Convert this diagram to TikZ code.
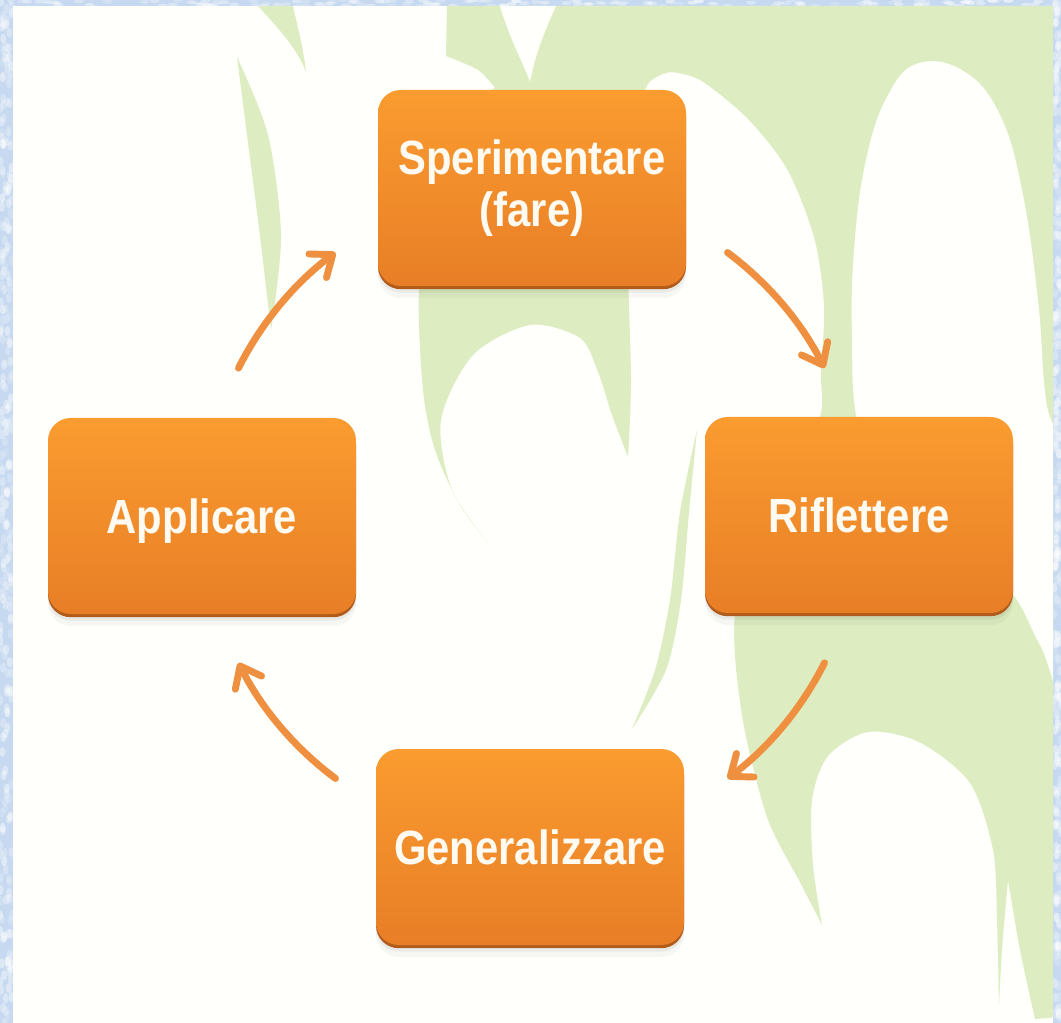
\documentclass[tikz,border=0pt]{standalone}
\usepackage{fontspec}
\newfontfamily\boxfont[FakeStretch=0.87]{Liberation Sans}
\usetikzlibrary{arrows.meta,shadows}
\definecolor{frameblue}{RGB}{198,217,240}
\definecolor{paper}{RGB}{255,255,251}
\definecolor{leaf}{RGB}{221,237,193}
\definecolor{boxtop}{RGB}{250,156,48}
\definecolor{boxbot}{RGB}{232,126,38}
\definecolor{boxedge}{RGB}{178,92,28}
\definecolor{arroworange}{RGB}{239,143,64}
\definecolor{boxtext}{RGB}{255,251,242}
\begin{document}
\begin{tikzpicture}[x=0.75pt,y=-0.75pt,
  procbox/.style={rounded corners=17pt, minimum width=231pt, minimum height=147pt,
    inner sep=0pt, align=center, text=boxtext,
    font=\boxfont\bfseries\fontsize{36}{39}\selectfont,
    top color=boxtop, bottom color=boxbot,
    general shadow={fill=black, opacity=0.035, shadow yshift=-9pt, shadow xshift=0pt},
    general shadow={fill=black, opacity=0.05, shadow yshift=-5pt},
    general shadow={fill=boxedge, shadow yshift=-2.4pt}},
  oneline/.style={text height=26pt, text depth=0pt},
  cycarrow/.style={draw=arroworange, line width=5.2pt, line cap=round,
    -{Straight Barb[length=14pt, width=22pt, round]}}
]
\useasboundingbox (0,0) rectangle (1061,1023);
% textured frame
\fill[frameblue] (0,0) rectangle (1061,1023);
\pgfmathsetseed{11}
\foreach \i in {1,...,260}{
  \pgfmathsetmacro{\yy}{rnd*1023}
  \pgfmathsetmacro{\xx}{rnd*12}
  \pgfmathsetmacro{\op}{0.15+0.3*rnd}
  \fill[white, opacity=\op] (\xx,\yy) ellipse [x radius=3, y radius=5];
  \pgfmathsetmacro{\yy}{rnd*1023}
  \pgfmathsetmacro{\xx}{1054+rnd*7}
  \fill[white, opacity=\op] (\xx,\yy) ellipse [x radius=3, y radius=5];
}
\foreach \i in {1,...,160}{
  \pgfmathsetmacro{\xx}{rnd*1061}
  \pgfmathsetmacro{\yy}{rnd*6}
  \pgfmathsetmacro{\op}{0.15+0.3*rnd}
  \fill[white, opacity=\op] (\xx,\yy) ellipse [x radius=5, y radius=2];
}
\begin{scope}
\clip (13,6) rectangle (1053,1023);
\fill[paper] (13,6) rectangle (1053,1023);
% main green region with white tongues
\fill[leaf] (447,6) -- (1060,6) -- (1060,1017) -- (1035,1019)
  -- plot[smooth] coordinates {(1035,1019) (1020,950) (1008,880)}
  -- plot[smooth] coordinates {(1008,880) (1002,950) (999,1005)}
  -- plot[smooth] coordinates {(999,1005) (997,920) (993,850) (970,783) (919,742) (868,732) (828,756) (812,800) (813,865) (822,925)}
  -- plot[smooth] coordinates {(822,925) (801,884) (767,817) (742,715) (735,613) (765,510) (818,423) (821,372) (824,305) (814,237) (787,169) (747,118) (700,80) (670,72)}
  -- plot[smooth] coordinates {(670,72) (648,84) (634,130) (628,250) (631,380) (628,457)}
  -- plot[smooth] coordinates {(628,457) (612,415) (598,372) (580,338) (530,325) (473,355) (441,420) (452,490) (490,545)}
  -- plot[smooth] coordinates {(490,545) (460,505) (435,450) (423,390) (419,290) (432,190) (470,110) (495,88)}
  -- plot[smooth] coordinates {(495,88) (478,70) (446,56)}
  -- cycle;
% white tongue on the right
\fill[paper] plot[smooth cycle, tension=0.7] coordinates {(919,63) (965,72) (1000,115) (1022,190) (1038,300) (1046,400) (1062,470) (1062,680) (1040,645) (1008,588) (950,540) (880,480) (857,420) (852,340) (854,250) (866,160) (888,95)};
% white wedge at the top
\fill[paper] (500,6) .. controls (510,40) and (522,60) .. (530,82) .. controls (535,55) and (545,30) .. (556,6) -- cycle;
% small green flames
\fill[leaf] (258,6) .. controls (280,30) and (298,50) .. (306,72) .. controls (303,45) and (297,25) .. (293,6) -- cycle;
\fill[leaf] plot[smooth] coordinates {(237,57) (247,135) (260,236) (271,330)}
  -- plot[smooth] coordinates {(271,330) (281,236) (268,135) (237,57)} -- cycle;
\fill[leaf] plot[smooth] coordinates {(697,430) (680,512) (670,600) (655,670) (632,729)}
  -- plot[smooth] coordinates {(632,729) (666,670) (681,600) (689,512) (697,430)} -- cycle;
\end{scope}

% boxes
\node[procbox] (exp) at (532,188) {Sperimentare\\(fare)};
\node[procbox, oneline] (rif) at (859,515) {Riflettere};
\node[procbox, oneline] (gen) at (530,847) {Generalizzare};
\node[procbox, oneline] (app) at (202,516) {Applicare};

% cycle arrows
\coordinate (c) at (531.5,515.5);
\coordinate (a1) at ([shift={(206.7:328)}]c);
\coordinate (a2) at ([shift={(306.7:328)}]c);
\coordinate (a3) at ([shift={(26.7:328)}]c);
\coordinate (a4) at ([shift={(126.7:328)}]c);
\draw[cycarrow] (a1) arc[start angle=206.7, end angle=233.3, radius=328];
\draw[cycarrow] (a2) arc[start angle=306.7, end angle=333.3, radius=328];
\draw[cycarrow] (a3) arc[start angle=26.7, end angle=53.3, radius=328];
\draw[cycarrow] (a4) arc[start angle=126.7, end angle=153.3, radius=328];
\end{tikzpicture}
\end{document}
